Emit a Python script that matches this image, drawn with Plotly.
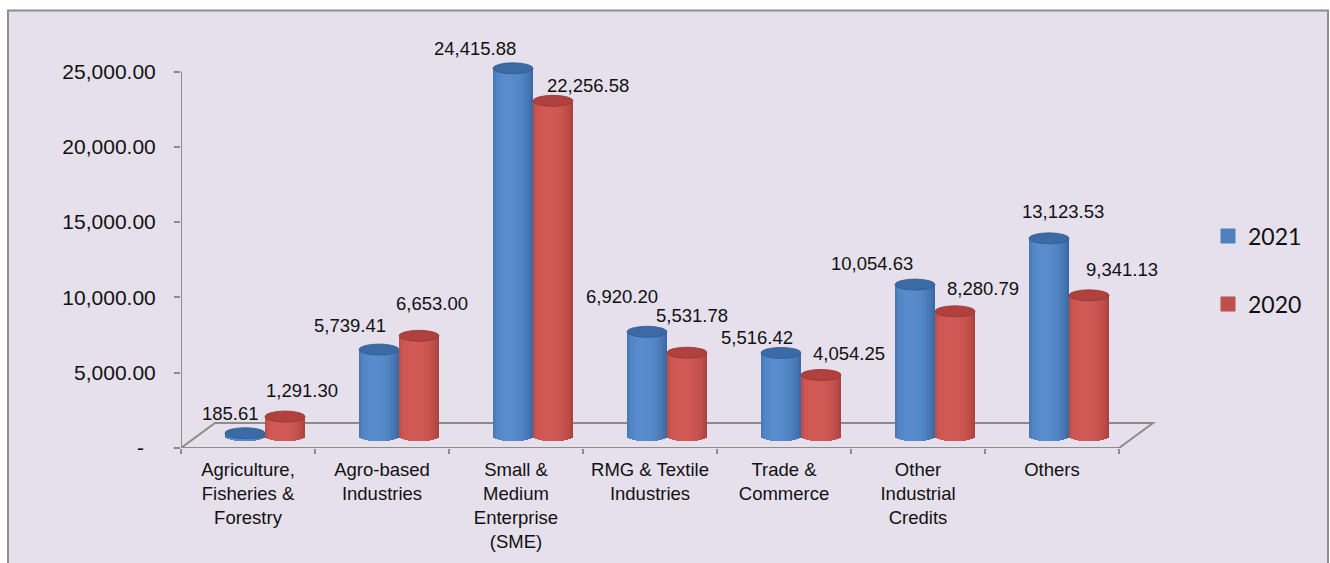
import math
import plotly.graph_objects as go

# ---- data ----
categories = [
    "Agriculture, Fisheries & Forestry",
    "Agro-based Industries",
    "Small & Medium Enterprise (SME)",
    "RMG & Textile Industries",
    "Trade & Commerce",
    "Other Industrial Credits",
    "Others",
]
tick_labels = [
    "Agriculture,<br>Fisheries &<br>Forestry",
    "Agro-based<br>Industries",
    "Small &<br>Medium<br>Enterprise<br>(SME)",
    "RMG & Textile<br>Industries",
    "Trade &<br>Commerce",
    "Other<br>Industrial<br>Credits",
    "Others",
]
values_2021 = [185.61, 5739.41, 24415.88, 6920.20, 5516.42, 10054.63, 13123.53]
values_2020 = [1291.30, 6653.00, 22256.58, 5531.78, 4054.25, 8280.79, 9341.13]
y_tick_values = [0, 5000, 10000, 15000, 20000, 25000]
y_tick_text = ["-\u2007", "5,000.00", "10,000.00", "15,000.00", "20,000.00", "25,000.00"]

# ---- layout geometry (pixels) ----
FIG_W, FIG_H = 1330, 563
ML, MR, MT, MB = 181, 170, 30, 115
PLOT_W = FIG_W - ML - MR
PLOT_H = FIG_H - MT - MB
CAT_PX = 134.0            # pixels per category
VAL_PX = 0.01506          # pixels per value unit
MID_DX, MID_DY = 17, 12   # depth offset of the bar row
BACK_DX, BACK_DY = 34, 25 # depth offset of the floor's back edge
R_PX, RY_PX = 20.0, 5.5   # cylinder radius and cap half-height

x_range = [-0.5, -0.5 + PLOT_W / CAT_PX]
y_range = [0, PLOT_H / VAL_PX]
x2_range = [x_range[0] - MID_DX / CAT_PX, x_range[1] - MID_DX / CAT_PX]
y2_range = [y_range[0] - MID_DY / VAL_PX, y_range[1] - MID_DY / VAL_PX]

R = R_PX / CAT_PX
RY = RY_PX / VAL_PX

BG = "#E5E0EC"
AXIS_GREY = "#8C8C8C"
TEXT_FONT = "Liberation Sans, Arial, sans-serif"

series = [
    dict(name="2021", values=values_2021, side=-1, legend="legend",
         dark=(38, 80, 134), light=(88, 140, 204), cap="#3C6AA4",
         rim="#2F5A8F", key="#4F81BD"),
    dict(name="2020", values=values_2020, side=1, legend="legend2",
         dark=(146, 50, 47), light=(210, 90, 86), cap="#B0413E",
         rim="#933532", key="#C0504D"),
]

# per-label pixel nudges (dx, dy) for the value labels
label_shift_2021 = [(-15, 20), (-29, 24), (-38, 20), (-25, 35), (-24, 15), (-43, 21), (14, 27)]
label_shift_2020 = [(17, 26), (13, 32), (35, 15), (5, 37), (28, 21), (28, 23), (33, 26)]

N_STRIPS = 22
LIGHT_ANGLE = -0.25


def mix(a, b, f):
    return "rgb({},{},{})".format(*[round(a[i] + (b[i] - a[i]) * f) for i in range(3)])


fig = go.Figure()

# hidden trace that defines the category axis
fig.add_trace(go.Scatter(
    x=tick_labels, y=[0] * len(tick_labels), mode="markers",
    marker=dict(size=1, opacity=0), hoverinfo="skip", showlegend=False,
))

# cylinder bodies: vertical shading strips drawn as bars on the mid-depth axes
idx = list(range(len(categories)))
strip_w = 2 * R / N_STRIPS
for s in series:
    for k in range(N_STRIPS):
        u = -1 + (2 * k + 1) / N_STRIPS
        th = math.asin(u)
        lum = max(0.0, math.cos(th - LIGHT_ANGLE))
        color = mix(s["dark"], s["light"], 0.38 + 0.62 * lum)
        sag = RY * math.sqrt(max(0.0, 1 - u * u))
        fig.add_trace(go.Bar(
            x=[i + s["side"] * R + u * R for i in idx],
            y=[v + sag for v in s["values"]],
            base=[-sag] * len(idx),
            width=strip_w * 1.3,
            marker=dict(color=color, line=dict(width=0)),
            xaxis="x2", yaxis="y2",
            hoverinfo="skip", showlegend=False,
        ))

# legend keys
for s in series:
    fig.add_trace(go.Scatter(
        x=[None], y=[None], mode="markers", name=s["name"],
        marker=dict(symbol="square", size=15, color=s["key"]),
        legend=s["legend"], xaxis="x2", yaxis="y2",
    ))

shapes = []
# chart area frame
shapes.append(dict(
    type="rect", xref="paper", yref="paper", layer="below",
    x0=(8 - ML) / PLOT_W, x1=(1328 - ML) / PLOT_W,
    y0=(FIG_H - MB - 580) / PLOT_H, y1=(FIG_H - MB - 10.5) / PLOT_H,
    fillcolor=BG, line=dict(color="#8E8E8E", width=2),
))
# floor outline
bx, by = BACK_DX / CAT_PX, BACK_DY / VAL_PX
x_lo, x_hi = -0.5, len(categories) - 0.5
shapes.append(dict(
    type="path", xref="x", yref="y", layer="below",
    path=f"M {x_lo},0 L {x_lo + bx},{by} L {x_hi + bx},{by} L {x_hi},0 Z",
    line=dict(color=AXIS_GREY, width=2),
))
# value axis line
shapes.append(dict(
    type="line", xref="x", yref="y", layer="below",
    x0=x_lo, x1=x_lo, y0=0, y1=y_tick_values[-1],
    line=dict(color=AXIS_GREY, width=2),
))
# cylinder caps
for s in series:
    for i, v in zip(idx, s["values"]):
        c = i + s["side"] * R
        shapes.append(dict(
            type="circle", xref="x2", yref="y2",
            x0=c - R, x1=c + R, y0=v - RY, y1=v + RY,
            fillcolor=s["cap"], line=dict(color=s["rim"], width=0.8),
        ))

# value labels
annotations = []
for s, shifts in zip(series, [label_shift_2021, label_shift_2020]):
    for i, v, (dx, dy) in zip(idx, s["values"], shifts):
        annotations.append(dict(
            xref="x2", yref="y2", x=i + s["side"] * R, y=v,
            text=f"{v:,.2f}", showarrow=False,
            xanchor="center", yanchor="middle", xshift=dx, yshift=dy,
            font=dict(family=TEXT_FONT, size=18.5, color="#111111"),
        ))


def px_to_paper(px, py):
    return (px - ML) / PLOT_W, (FIG_H - MB - py) / PLOT_H


lx, ly1 = px_to_paper(1208, 236)
_, ly2 = px_to_paper(1208, 304)
legend_style = dict(
    xanchor="left", yanchor="middle", bgcolor="rgba(0,0,0,0)", borderwidth=0,
    font=dict(family="Lato, Carlito, Calibri, sans-serif", size=23, color="#111111"),
    itemsizing="trace",
)

fig.update_layout(
    width=FIG_W, height=FIG_H,
    margin=dict(l=ML, r=MR, t=MT, b=MB),
    paper_bgcolor="white", plot_bgcolor="rgba(0,0,0,0)",
    barmode="overlay", bargap=0,
    showlegend=True,
    legend=dict(x=lx, y=ly1, **legend_style),
    legend2=dict(x=lx, y=ly2, **legend_style),
    xaxis=dict(
        type="category", range=x_range, tickson="boundaries",
        ticks="outside", ticklen=5, tickwidth=2, tickcolor=AXIS_GREY,
        showline=False, showgrid=False, zeroline=False, fixedrange=True,
        tickfont=dict(family=TEXT_FONT, size=18.5, color="#111111"),
        ticklabelstandoff=8,
    ),
    yaxis=dict(
        range=y_range, tickvals=y_tick_values, ticktext=y_tick_text,
        ticks="outside", ticklen=6, tickwidth=2, tickcolor=AXIS_GREY,
        showline=False, showgrid=False, zeroline=False, fixedrange=True,
        tickfont=dict(family=TEXT_FONT, size=21, color="#111111"),
        ticklabelstandoff=14,
    ),
    xaxis2=dict(range=x2_range, overlaying="x", visible=False, fixedrange=True),
    yaxis2=dict(range=y2_range, overlaying="y", visible=False, fixedrange=True),
    shapes=shapes,
    annotations=annotations,
)

fig.write_html("out.html")
